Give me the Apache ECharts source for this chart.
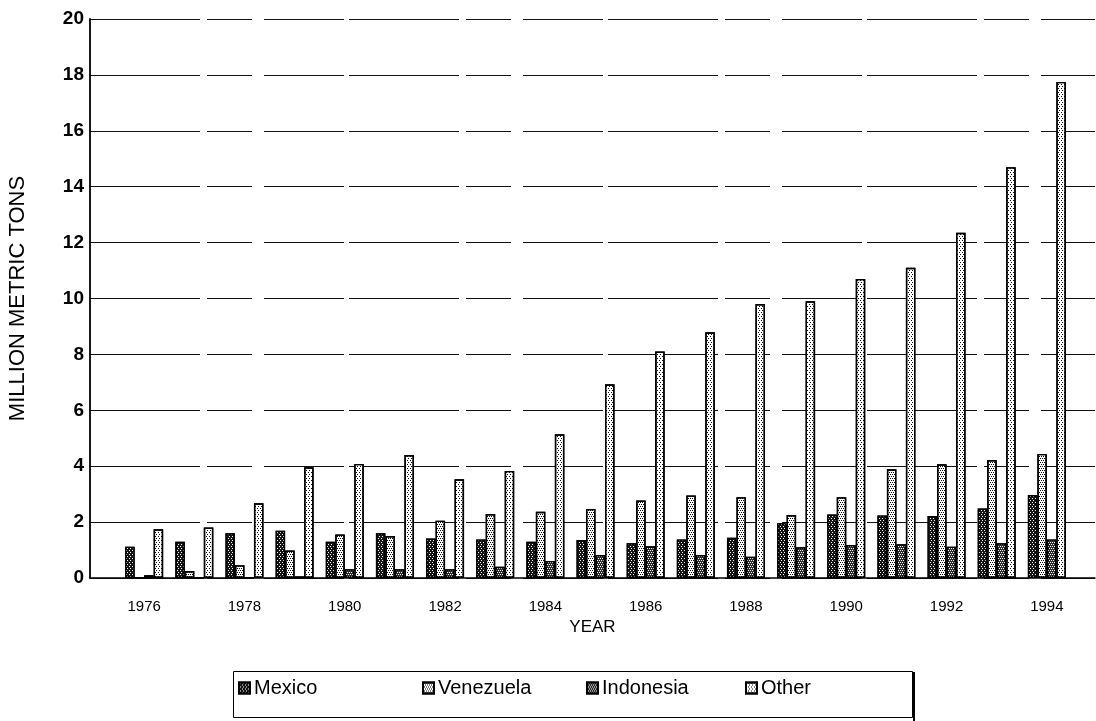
<!DOCTYPE html>
<html>
<head>
<meta charset="utf-8">
<script src="https://cdn.jsdelivr.net/npm/echarts@6.0.0/dist/echarts.min.js"></script>
<style>
  html, body { margin: 0; padding: 0; background: #fff; }
  #chart { width: 1096px; height: 721px; }
</style>
</head>
<body>
<div id="chart"></div>
<script>
// Annual volumes by source, million metric tons
const years = [1976, 1977, 1978, 1979, 1980, 1981, 1982, 1983, 1984, 1985,
               1986, 1987, 1988, 1989, 1990, 1991, 1992, 1993, 1994];
const mexico    = [1.12, 1.30, 1.60, 1.69, 1.30, 1.60, 1.41, 1.38, 1.30, 1.36,
                   1.24, 1.38, 1.44, 1.96, 2.27, 2.24, 2.22, 2.49, 2.97];
const venezuela = [0.00, 0.25, 0.46, 0.98, 1.56, 1.50, 2.05, 2.29, 2.37, 2.47,
                   2.77, 2.95, 2.89, 2.25, 2.89, 3.89, 4.07, 4.22, 4.44];
const indonesia = [0.10, 0.00, 0.00, 0.06, 0.31, 0.31, 0.31, 0.40, 0.61, 0.82,
                   1.14, 0.82, 0.76, 1.10, 1.18, 1.21, 1.12, 1.24, 1.38];
const other     = [1.74, 1.81, 2.67, 3.96, 4.08, 4.40, 3.53, 3.83, 5.14, 6.93,
                   8.10, 8.79, 9.80, 9.90, 10.70, 11.10, 12.35, 14.70, 17.75];
const yearTicks = [1976, 1978, 1980, 1982, 1984, 1986, 1988, 1990, 1992, 1994];
const yTicks = [0, 2, 4, 6, 8, 10, 12, 14, 16, 18, 20];

const FONT = 'Liberation Sans, Arial, sans-serif';

// stipple fills, one per source
const fills = {
  Mexico:    { color: '#151515', decal: { symbol: 'rect', symbolSize: 1, color: '#ffffff',
               dashArrayX: [[1, 2], [0, 1, 1, 1]], dashArrayY: [1, 1] } },
  Venezuela: { color: '#ffffff', decal: { symbol: 'rect', symbolSize: 1, color: '#000000',
               dashArrayX: [[1, 1], [0, 1, 1, 0]], dashArrayY: [1, 1] } },
  Indonesia: { color: '#2a2a2a', decal: { symbol: 'rect', symbolSize: 1, color: '#ffffff',
               dashArrayX: [[1, 1], [0, 1, 1, 0]], dashArrayY: [1, 1] } },
  Other:     { color: '#ffffff', decal: { symbol: 'rect', symbolSize: 1, color: '#000000',
               dashArrayX: [[1, 2], [0, 2, 1, 0]], dashArrayY: [1, 1] } }
};

function makeSeries(name, values) {
  return {
    name: name,
    type: 'bar',
    barWidth: 9.5,
    barGap: '0%',
    data: years.map((y, i) => [y, values[i]]),
    itemStyle: {
      color: fills[name].color,
      decal: fills[name].decal,
      borderColor: '#000',
      borderWidth: 1.4
    },
    emphasis: { disabled: true },
    animation: false
  };
}

function legendAt(name, left) {
  return {
    data: [name],
    left: left,
    top: 678,
    icon: 'rect',
    itemWidth: 11,
    itemHeight: 11,
    itemGap: 0,
    padding: 0,
    selectedMode: false,
    textStyle: { fontFamily: FONT, fontSize: 20, color: '#000', padding: [0, 0, 0, -1] }
  };
}

const chart = echarts.init(document.getElementById('chart'), null, { renderer: 'canvas' });

chart.setOption({
  backgroundColor: '#fff',
  animation: false,
  grid: { left: 90, right: 1, top: 19, bottom: 143, outerBoundsMode: 'none', containLabel: false },
  xAxis: {
    type: 'value',
    min: 1974.92,
    max: 1994.96,
    name: 'YEAR',
    nameLocation: 'middle',
    nameGap: 26,
    nameTextStyle: { fontFamily: FONT, fontSize: 17, color: '#000' },
    axisLine: { show: true, lineStyle: { color: '#000', width: 1.5 } },
    axisTick: { show: false },
    splitLine: { show: false },
    axisLabel: {
      customValues: yearTicks,
      margin: 21,
      fontFamily: FONT,
      fontSize: 15,
      color: '#000',
      formatter: v => String(v)
    }
  },
  yAxis: {
    type: 'value',
    min: 0,
    max: 20,
    interval: 2,
    name: 'MILLION METRIC TONS',
    nameLocation: 'middle',
    nameGap: 61,
    nameRotate: 90,
    nameTextStyle: { fontFamily: FONT, fontSize: 22, color: '#000' },
    axisLine: { show: true, lineStyle: { color: '#000', width: 1.8 } },
    axisTick: { show: false },
    axisLabel: {
      customValues: yTicks,
      margin: 6,
      fontFamily: FONT,
      fontSize: 19,
      fontWeight: 'bold',
      color: '#000'
    },
    splitLine: {
      show: true,
      lineStyle: { color: '#111', width: 1, type: [110, 7, 45, 12, 80, 5] }
    }
  },
  legend: [
    legendAt('Mexico', 238),
    legendAt('Venezuela', 422),
    legendAt('Indonesia', 586),
    legendAt('Other', 745)
  ],
  graphic: [
    {
      type: 'rect',
      shape: { x: 233.5, y: 671.5, width: 679, height: 46 },
      style: { fill: 'none', stroke: '#000', lineWidth: 1 },
      silent: true
    },
    {
      type: 'line',
      shape: { x1: 914, y1: 672, x2: 914, y2: 721 },
      style: { stroke: '#000', lineWidth: 2 },
      silent: true
    }
  ],
  series: [
    makeSeries('Mexico', mexico),
    makeSeries('Venezuela', venezuela),
    makeSeries('Indonesia', indonesia),
    makeSeries('Other', other)
  ]
});
</script>
</body>
</html>
